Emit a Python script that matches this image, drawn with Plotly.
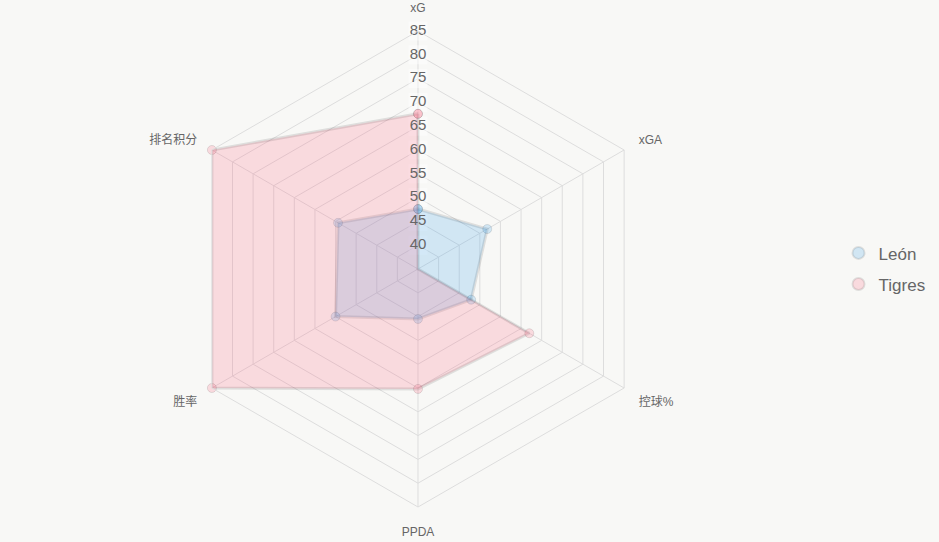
import plotly.graph_objects as go

categories = ["xG", "xGA", "控球%", "PPDA", "胜率", "排名积分"]
leon_values = [47.6, 51.8, 47.9, 45.5, 55.0, 54.4]
tigres_values = [67.6, 35.0, 62.0, 60.2, 85.0, 85.0]
tick_values = [40, 45, 50, 55, 60, 65, 70, 75, 80, 85]
tick_labels = [str(v) for v in tick_values]
series_names = ["León", "Tigres"]

blue_fill = "rgba(54,162,235,0.2)"
pink_fill = "rgba(255,99,132,0.2)"
border = "rgba(0,0,0,0.1)"
bg = "#f8f8f6"
txt = "#666666"

fig = go.Figure()

# radial tick label backdrops
fig.add_trace(go.Scatterpolar(
    r=tick_values, theta=[categories[0]] * len(tick_values),
    mode="markers",
    marker=dict(symbol="square", size=19, color="rgba(255,255,255,0.45)", line=dict(width=0)),
    showlegend=False, hoverinfo="skip", cliponaxis=False,
))

for name, vals, fc in [("León", leon_values, blue_fill), ("Tigres", tigres_values, pink_fill)]:
    fig.add_trace(go.Scatterpolar(
        r=vals + vals[:1], theta=categories + categories[:1],
        mode="lines+markers", fill="toself", fillcolor=fc,
        line=dict(color=border, width=3),
        marker=dict(size=9, color=fc, line=dict(color=border, width=1)),
        name=name, showlegend=False, hoverinfo="skip",
    ))

fig.add_trace(go.Scatterpolar(
    r=tick_values, theta=[categories[0]] * len(tick_values),
    mode="text", text=tick_labels, textposition="middle center",
    textfont=dict(family="Liberation Sans, Arial, sans-serif", size=15, color=txt),
    showlegend=False, hoverinfo="skip", cliponaxis=False,
))

# legend entries
for name, fc in zip(series_names, [blue_fill, pink_fill]):
    fig.add_trace(go.Scatterpolar(
        r=[None], theta=[categories[0]], mode="markers", name=name, legendgroup=name,
        marker=dict(symbol="circle", size=15, color=fc, line=dict(color=border, width=1)),
        showlegend=True,
    ))

fig.update_layout(
    width=939, height=542,
    margin=dict(l=0, r=0, t=0, b=0),
    paper_bgcolor=bg, plot_bgcolor=bg,
    font=dict(family="Liberation Sans, Arial, Noto Sans CJK SC, sans-serif", color=txt),
    polar=dict(
        domain=dict(x=[180 / 939, 656 / 939], y=[1 - 507 / 542, 1 - 31 / 542]),
        bgcolor=bg,
        gridshape="linear",
        radialaxis=dict(
            range=[35, 85], tick0=35, dtick=5, showticklabels=False, ticks="",
            showline=False, gridcolor="#dddddd", gridwidth=1, angle=90,
        ),
        angularaxis=dict(
            direction="clockwise", rotation=90, showline=True, linecolor="#dddddd",
            gridcolor="#dddddd", ticks="outside", ticklen=14, tickcolor="rgba(0,0,0,0)",
            tickfont=dict(family="Liberation Sans, Noto Sans CJK SC, sans-serif", size=12, color=txt),
        ),
    ),
    legend=dict(
        x=0.893, y=0.504, xanchor="left", yanchor="middle",
        font=dict(family="Liberation Sans, Arial, sans-serif", size=17, color=txt),
        itemsizing="constant", bgcolor="rgba(0,0,0,0)",
        traceorder="grouped", tracegroupgap=6,
    ),
)

fig.write_html("out.html")
